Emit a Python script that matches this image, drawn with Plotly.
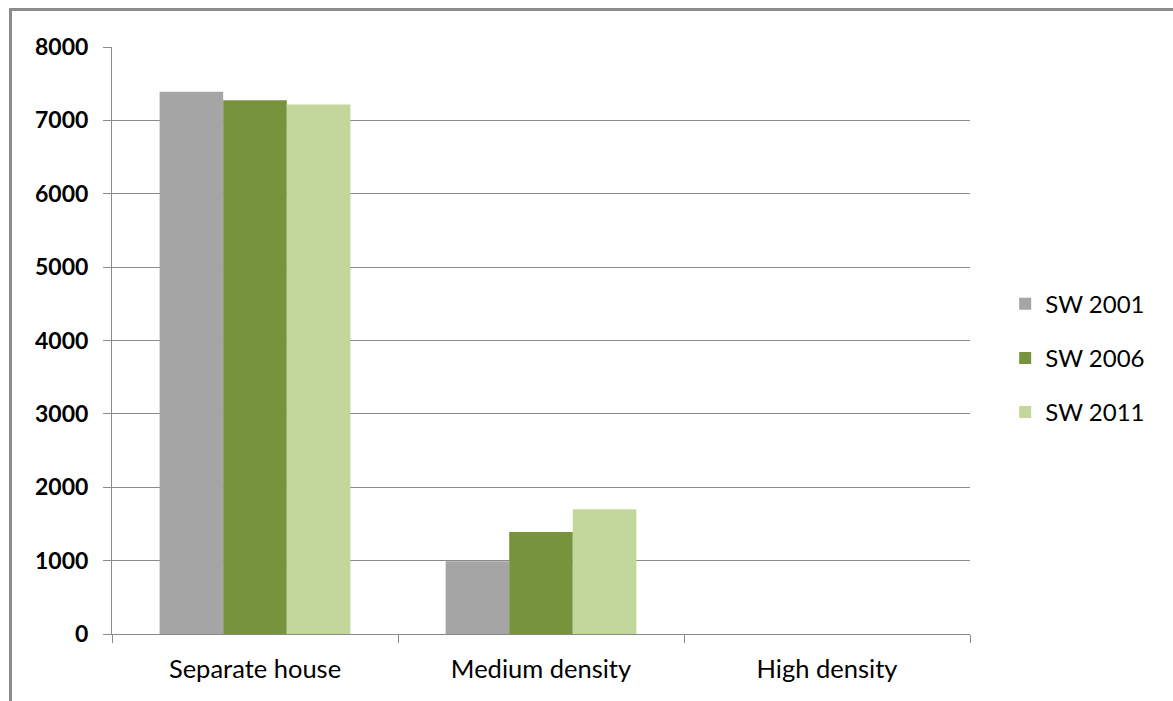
import plotly.graph_objects as go

categories = ["Separate house", "Medium density", "High density"]
series_names = ["SW 2001", "SW 2006", "SW 2011"]
sw2001 = [7390, 990, 0]
sw2006 = [7275, 1390, 0]
sw2011 = [7215, 1700, 0]
colors = ["#A5A5A5", "#77933C", "#C3D69B"]

fig = go.Figure()
for name, vals, col in zip(series_names, [sw2001, sw2006, sw2011], colors):
    fig.add_trace(go.Bar(x=categories, y=vals, name=name, marker_color=col,
                         marker_line_width=0, legendgroup=name))

grid = "#8A8A8A"
fig.update_layout(
    width=1173, height=701,
    margin=dict(l=112, r=203, t=47, b=67, autoexpand=False),
    paper_bgcolor="white", plot_bgcolor="white",
    barmode="group", bargap=0.333, bargroupgap=0,
    font=dict(family="Lato", size=23, color="black"),
    legend=dict(x=1.041, xanchor="left", y=0.47, yanchor="middle",
                traceorder="grouped", tracegroupgap=20,
                font=dict(size=24, family="Lato")),
    shapes=[dict(type="rect", xref="paper", yref="paper",
                 x0=-0.1183, x1=1.4, y0=-0.3, y1=1.064,
                 line=dict(color="#8C8C8C", width=3), layer="below")],
)
fig.update_yaxes(range=[0, 8000], dtick=1000, showgrid=True, gridcolor=grid,
                 gridwidth=1, showline=True, linecolor=grid, linewidth=1,
                 ticks="outside", ticklen=8, tickcolor=grid,
                 tickfont=dict(family="Lato", size=23, color="black", weight="bold"),
                 ticklabelstandoff=10, zeroline=False)
fig.update_xaxes(showline=True, linecolor=grid, linewidth=1, ticks="outside",
                 ticklen=8, tickcolor=grid, tickson="boundaries",
                 tickfont=dict(family="Lato", size=25.5, color="black"),
                 ticklabelstandoff=12)

fig.write_html("out.html")
